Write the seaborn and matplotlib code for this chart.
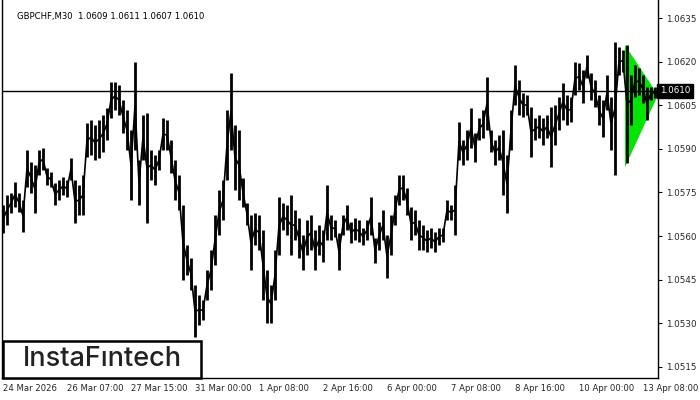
import matplotlib
matplotlib.use("Agg")
import matplotlib.pyplot as plt
from matplotlib.patches import Rectangle
import numpy as np
import seaborn as sns

# GBPCHF M30, one sample every 4 bars (high / low)
highs = [
    1.05707, 1.05741, 1.05748, 1.05786, 1.05748, 1.05724, 1.05896, 1.05855, 1.05844, 1.05896,
    1.05903, 1.05834, 1.05820, 1.05782, 1.05793, 1.05803, 1.05793, 1.05868, 1.05793, 1.05776,
    1.05810, 1.05989, 1.05999, 1.05982, 1.05999, 1.06016, 1.06041, 1.06130, 1.06130, 1.06120,
    1.06068, 1.06034, 1.05965, 1.06199, 1.05862, 1.06016, 1.06023, 1.05896, 1.05879, 1.05896,
    1.06006, 1.05999, 1.05930, 1.05862, 1.05810, 1.05707, 1.05569, 1.05524, 1.05432, 1.05397,
    1.05380, 1.05483, 1.05552, 1.05672, 1.05758, 1.05793, 1.06034, 1.06161, 1.05982, 1.05965,
    1.05800, 1.05714, 1.05672, 1.05679, 1.05672, 1.05621, 1.05483, 1.05432, 1.05552, 1.05734,
    1.05714, 1.05707, 1.05741, 1.05690, 1.05662, 1.05604, 1.05655, 1.05672, 1.05621, 1.05638,
    1.05621, 1.05776, 1.05672, 1.05655, 1.05610, 1.05672, 1.05707, 1.05648, 1.05662, 1.05655,
    1.05628, 1.05655, 1.05734, 1.05593, 1.05648, 1.05690, 1.05604, 1.05672, 1.05741, 1.05810,
    1.05810, 1.05765, 1.05700, 1.05690, 1.05655, 1.05638, 1.05621, 1.05628, 1.05614, 1.05628,
    1.05628, 1.05724, 1.05707, 1.05776, 1.05992, 1.05930, 1.05965, 1.06041, 1.05955, 1.06006,
    1.06034, 1.06147, 1.05965, 1.05930, 1.05948, 1.05965, 1.05879, 1.06034, 1.06188, 1.06137,
    1.06092, 1.06085, 1.06044, 1.06006, 1.06016, 1.06006, 1.06016, 1.06044, 1.06051, 1.06078,
    1.06126, 1.06085, 1.06078, 1.06199, 1.06195, 1.06171, 1.06223, 1.06161, 1.06137, 1.06085,
    1.06068, 1.06154, 1.06078, 1.06268, 1.06250, 1.06240, 1.06257, 1.06154, 1.06188, 1.06178,
    1.06154, 1.06113, 1.06113, 1.06113,
]
lows = [
    1.05610, 1.05638, 1.05679, 1.05700, 1.05683, 1.05614, 1.05769, 1.05748, 1.05679, 1.05810,
    1.05827, 1.05776, 1.05769, 1.05707, 1.05724, 1.05741, 1.05734, 1.05793, 1.05645, 1.05672,
    1.05672, 1.05872, 1.05879, 1.05862, 1.05868, 1.05889, 1.05930, 1.06006, 1.06034, 1.06016,
    1.05955, 1.05896, 1.05724, 1.05896, 1.05707, 1.05862, 1.05645, 1.05793, 1.05776, 1.05827,
    1.05896, 1.05896, 1.05817, 1.05724, 1.05690, 1.05449, 1.05466, 1.05414, 1.05253, 1.05294,
    1.05311, 1.05380, 1.05414, 1.05500, 1.05604, 1.05655, 1.05793, 1.05896, 1.05758, 1.05724,
    1.05700, 1.05638, 1.05483, 1.05569, 1.05552, 1.05380, 1.05301, 1.05301, 1.05380, 1.05535,
    1.05621, 1.05604, 1.05535, 1.05586, 1.05524, 1.05483, 1.05535, 1.05552, 1.05483, 1.05535,
    1.05511, 1.05586, 1.05586, 1.05597, 1.05483, 1.05604, 1.05621, 1.05576, 1.05586, 1.05579,
    1.05569, 1.05586, 1.05604, 1.05507, 1.05552, 1.05586, 1.05456, 1.05535, 1.05638, 1.05707,
    1.05724, 1.05672, 1.05586, 1.05604, 1.05552, 1.05552, 1.05545, 1.05559, 1.05545, 1.05569,
    1.05579, 1.05655, 1.05655, 1.05604, 1.05862, 1.05844, 1.05862, 1.05903, 1.05855, 1.05930,
    1.05937, 1.05965, 1.05889, 1.05844, 1.05862, 1.05741, 1.05679, 1.05896, 1.06051, 1.06016,
    1.06010, 1.06016, 1.05872, 1.05930, 1.05937, 1.05913, 1.05937, 1.05838, 1.05913, 1.05965,
    1.05999, 1.05982, 1.05992, 1.06085, 1.06102, 1.06058, 1.06144, 1.06068, 1.06044, 1.05982,
    1.05941, 1.06034, 1.05896, 1.05810, 1.06154, 1.06164, 1.05851, 1.05982, 1.06078, 1.06085,
    1.06058, 1.05999, 1.06068, 1.06075,
]
bar_step = 4

tick_bars = [0, 64, 128, 192, 256, 320, 384, 448, 512, 576, 640]
tick_labels = ["24 Mar 2026", "26 Mar 07:00", "27 Mar 15:00", "31 Mar 00:00", "1 Apr 08:00",
               "2 Apr 16:00", "6 Apr 00:00", "7 Apr 08:00", "8 Apr 16:00", "10 Apr 00:00",
               "13 Apr 08:00"]
price_ticks = [1.0515, 1.0530, 1.0545, 1.0560, 1.0575, 1.0590, 1.0605, 1.0620, 1.0635]

# pennant pattern (bar index, price)
pennant_x = [622, 622, 655]
pennant_y = [1.06257, 1.05837, 1.06085]

last_price = 1.0610
title = "GBPCHF,M30  1.0609 1.0611 1.0607 1.0610"

sns.set_style("white")
plt.rcParams["font.family"] = ["DejaVu Sans"]

fig = plt.figure(figsize=(7, 4), dpi=100)
ax = fig.add_axes([2 / 700, 22 / 400, 656 / 700, 378 / 400])

bars = np.arange(len(highs)) * bar_step
mids = (np.array(highs) + np.array(lows)) / 2
ax.fill(pennant_x, pennant_y, color="#00e600", lw=0, zorder=1)
ax.vlines(bars, lows, highs, color="black", lw=2.0, zorder=2)
sns.lineplot(x=bars, y=mids, color="black", lw=1.2, ax=ax, zorder=2)
ax.axhline(last_price, color="black", lw=1, zorder=3)

ax.set_xlim(-1, 655)
ax.set_ylim(1.05112, 1.06412)

ax.set_xticks(tick_bars)
ax.set_xticklabels(tick_labels, ha="left")
ax.set_yticks(price_ticks)
ax.set_yticklabels([f"{p:.4f}" for p in price_ticks])
ax.yaxis.tick_right()
ax.tick_params(axis="x", length=3, width=0.8, pad=1, labelsize=6.1, color="black")
ax.tick_params(axis="y", length=3, width=0.8, pad=3, labelsize=6.3, color="black")
for s in ["left", "right", "bottom"]:
    ax.spines[s].set_color("black")
    ax.spines[s].set_linewidth(1)
ax.spines["top"].set_visible(False)
ax.grid(False)

ax.text(1.003, last_price, f"{last_price:.4f}", transform=ax.get_yaxis_transform(),
        va="center", ha="left", fontsize=6.3, color="white",
        bbox=dict(boxstyle="square,pad=0.3", fc="black", ec="black"), clip_on=False, zorder=5)

fig.text(17 / 700, 1 - 16 / 400, title, fontsize=6.1, color="black", va="center", ha="left")

fig.patches.append(Rectangle((3 / 700, 22 / 400), 198 / 700, 37 / 400, transform=fig.transFigure,
                             fc="white", ec="black", lw=1.8, zorder=10))
fig.text(102 / 700, 41 / 400, "InstaF\u0131ntech", fontsize=19.5, fontweight="medium",
         family=["Inter", "DejaVu Sans"], color="#222222", ha="center", va="center", zorder=11)

fig.savefig("out.png", dpi=100)
